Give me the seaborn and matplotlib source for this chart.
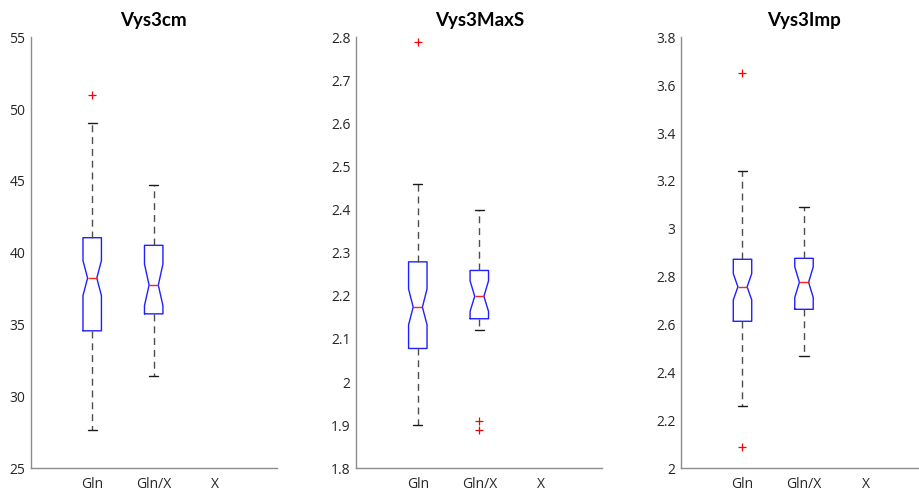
import matplotlib
matplotlib.use("Agg")
import matplotlib.pyplot as plt
import seaborn as sns

# ---------------- data ----------------
categories = ["Gln", "Gln/X", "X"]
titles = ["Vys3cm", "Vys3MaxS", "Vys3Imp"]

# one inner list per panel, values for [Gln, Gln/X]
whis_lo = [[27.7, 31.4], [1.90, 2.12], [2.26, 2.47]]
q1 = [[34.57, 35.75], [2.078, 2.147], [2.614, 2.664]]
median = [[38.24, 37.75], [2.174, 2.199], [2.758, 2.777]]
q3 = [[41.05, 40.52], [2.279, 2.259], [2.873, 2.877]]
whis_hi = [[49.0, 44.7], [2.46, 2.40], [3.24, 3.09]]
notch_lo = [[37.02, 36.32], [2.133, 2.164], [2.703, 2.713]]
notch_hi = [[39.46, 39.22], [2.216, 2.235], [2.813, 2.841]]
outliers = [[[51.0], []], [[2.79], [1.91, 1.89]], [[3.65, 2.09], []]]

y_limits = [(25, 55), (1.8, 2.8), (2.0, 3.8)]
y_ticks = [[25, 30, 35, 40, 45, 50, 55],
           [1.8, 1.9, 2.0, 2.1, 2.2, 2.3, 2.4, 2.5, 2.6, 2.7, 2.8],
           [2.0, 2.2, 2.4, 2.6, 2.8, 3.0, 3.2, 3.4, 3.6, 3.8]]
y_tick_labels = [["25", "30", "35", "40", "45", "50", "55"],
                 ["1.8", "1.9", "2", "2.1", "2.2", "2.3", "2.4", "2.5", "2.6", "2.7", "2.8"],
                 ["2", "2.2", "2.4", "2.6", "2.8", "3", "3.2", "3.4", "3.6", "3.8"]]

# ---------------- style ----------------
sns.set_theme(style="white")
plt.rcParams["font.family"] = ["Open Sans", "DejaVu Sans"]

W, H = 920, 490
fig = plt.figure(figsize=(W / 100, H / 100), dpi=100)

axes_left_px = [30.7, 356.3, 681.0]
ax_w_px = 246.0
ax_top_px, ax_bot_px = 37.3, 468.3

spine_col = "#8c8c8c"
text_col = "#262626"

for i in range(3):
    ax = fig.add_axes([axes_left_px[i] / W, (H - ax_bot_px) / H,
                       ax_w_px / W, (ax_bot_px - ax_top_px) / H])
    stats = []
    for g in range(2):
        stats.append(dict(
            label=categories[g],
            whislo=whis_lo[i][g], q1=q1[i][g], med=median[i][g],
            q3=q3[i][g], whishi=whis_hi[i][g],
            cilo=notch_lo[i][g], cihi=notch_hi[i][g],
            fliers=outliers[i][g],
        ))
    ax.bxp(stats, positions=[1, 2], widths=0.3, shownotches=True,
           boxprops=dict(color="#1f1fff", linewidth=1.0),
           medianprops=dict(color="#ff2020", linewidth=1.0),
           whiskerprops=dict(color="#4d4d4d", linewidth=1.0, linestyle=(0, (5, 3.5))),
           capprops=dict(color="#1a1a1a", linewidth=1.0),
           flierprops=dict(marker="+", markeredgecolor="#ff0000",
                           markersize=6, markeredgewidth=0.9, linestyle="none"),
           manage_ticks=False)

    ax.set_xlim(0, 4)
    ax.set_xticks([1, 2, 3])
    ax.set_xticklabels(categories)
    ax.set_ylim(*y_limits[i])
    ax.set_yticks(y_ticks[i])
    ax.set_yticklabels(y_tick_labels[i])

    sns.despine(ax=ax)
    for s in ["left", "bottom"]:
        ax.spines[s].set_color(spine_col)
        ax.spines[s].set_linewidth(1.0)
    ax.tick_params(axis="both", direction="in", length=4, width=0.8,
                   color=spine_col, labelcolor=text_col, labelsize=10, pad=4)
    ax.tick_params(axis="x", pad=6)
    ax.set_title(titles[i], fontsize=13.5, fontweight="bold", color="#000000", pad=8,
                 family=["Lato", "DejaVu Sans"])
    ax.grid(False)

fig.savefig("out.png", dpi=100)
